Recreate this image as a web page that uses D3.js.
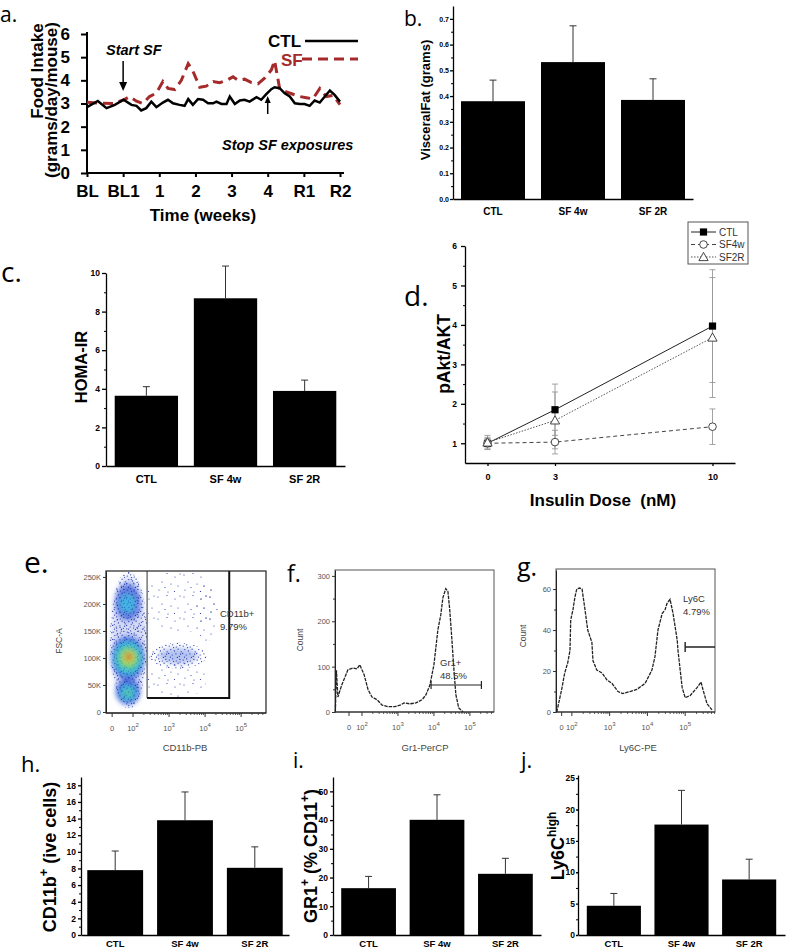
<!DOCTYPE html>
<html>
<head>
<meta charset="utf-8">
<script src="https://cdn.jsdelivr.net/npm/d3@7"></script>
<style>
body { margin: 0; background: #fff; }
svg { display: block; font-family: "Liberation Sans", Arial, sans-serif; }
</style>
</head>
<body>
<svg id="fig" width="787" height="950"></svg>
<script>
// ---------- panel a : food intake ----------
const weekLabels = ["BL", "BL1", "1", "2", "3", "4", "R1", "R2"];
const ctlWeek = [0, 0.30, 0.54, 0.77, 1.01, 1.23, 1.37, 1.50, 1.64, 1.78, 1.92, 2.10, 2.24, 2.38, 2.56, 2.70, 2.80, 2.93, 3.07, 3.21, 3.35, 3.49, 3.58, 3.72, 3.86, 3.95, 4.09, 4.23, 4.36, 4.50, 4.69, 4.82, 4.96, 5.10, 5.19, 5.33, 5.47, 5.61, 5.75, 5.89, 6.02, 6.16, 6.30, 6.44, 6.58, 6.72, 6.85, 7.0];
const ctlIntake = [2.84, 3.11, 2.80, 2.94, 3.16, 2.94, 2.90, 2.70, 2.80, 3.08, 2.84, 3.04, 3.16, 3.01, 2.94, 2.90, 3.19, 2.94, 3.19, 3.16, 3.01, 3.01, 3.08, 2.98, 2.98, 3.30, 2.98, 3.13, 3.16, 3.08, 3.27, 3.16, 3.40, 3.62, 3.70, 3.66, 3.44, 3.30, 3.01, 2.98, 2.98, 2.90, 3.13, 3.04, 3.30, 3.56, 3.37, 3.08];
const sfWeek = [0, 0.35, 0.72, 1.01, 1.18, 1.37, 1.55, 1.73, 1.92, 2.10, 2.24, 2.43, 2.61, 2.80, 2.93, 3.12, 3.30, 3.49, 3.67, 3.86, 4.04, 4.18, 4.36, 4.55, 4.73, 4.92, 5.10, 5.19, 5.33, 5.52, 5.70, 5.89, 6.07, 6.25, 6.44, 6.62, 6.81, 7.0];
const sfIntake = [3.05, 3.02, 3.0, 3.15, 3.3, 3.1, 3.0, 3.3, 3.45, 3.95, 3.65, 3.6, 4.0, 4.72, 4.4, 3.7, 3.75, 3.95, 3.9, 4.0, 4.15, 4.0, 4.05, 3.9, 3.85, 4.1, 4.45, 4.85, 3.65, 3.5, 3.4, 3.3, 3.25, 3.2, 3.65, 3.3, 3.35, 2.95];

// ---------- bar panels b, c, h, i, j ----------
const groups = ["CTL", "SF 4w", "SF 2R"];
const fatMean = [0.38, 0.532, 0.385];
const fatErr = [0.082, 0.141, 0.082];
const homaMean = [3.64, 8.69, 3.89];
const homaErr = [0.47, 1.67, 0.56];
const cd11Mean = [7.8, 13.8, 8.08];
const cd11Err = [2.3, 3.4, 2.52];
const gr1Mean = [16.3, 40.1, 21.3];
const gr1Err = [4.1, 8.7, 5.4];
const ly6Mean = [4.66, 17.6, 8.85];
const ly6Err = [1.96, 5.45, 3.23];

// ---------- panel d : pAkt/AKT ----------
const doses = [0, 3, 10];
const aktCtl = [1.0, 1.85, 3.97];
const aktCtlErr = [0.12, 0.65, 1.43];
const aktSf4w = [1.0, 1.03, 1.42];
const aktSf4wErr = [0.15, 0.3, 0.45];
const aktSf2r = [1.02, 1.58, 3.68];
const aktSf2rErr = [0.18, 0.72, 1.52];
const aktNames = ["CTL", "SF4w", "SF2R"];

// ---------- panel e : FSC-A vs CD11b-PB (channel units, K events) ----------
// blobs: [channel, K, radius channel, radius K, colour level, alpha]
const eBlobs = [
  [1.88, 132, 0.48, 120, 1, 0.22],
  [1.86, 203, 0.36, 34, 1, 0.7],
  [1.85, 201, 0.20, 16, 2, 0.75],
  [1.86, 100, 0.46, 40, 1, 0.8],
  [1.86, 100, 0.38, 30, 2, 0.9],
  [1.87, 100, 0.28, 21, 3, 1],
  [1.88, 101, 0.18, 13, 4, 1],
  [1.88, 102, 0.09, 7, 5, 1],
  [1.86, 38, 0.34, 24, 1, 0.8],
  [1.86, 36, 0.22, 14, 2, 0.8],
  [1.86, 35, 0.10, 7, 3, 0.6],
  [3.25, 104, 0.55, 15, 1, 0.35]
];
// speckle clouds: [channel, K, radius channel, radius K, pattern]
const eClouds = [
  [1.88, 134, 0.52, 128, "dense"],
  [1.88, 134, 0.50, 126, "mid"],
  [3.35, 205, 1.00, 58, "sparse"],
  [4.05, 190, 0.32, 60, "sparse"],
  [3.25, 104, 0.80, 24, "dense"],
  [3.20, 60, 0.85, 36, "sparse"]
];
const eGate = [2.39, 4.67, 26, 261];
const eYTicks = [0, 50, 100, 150, 200, 250];

// ---------- panels f, g : histograms (channel units, counts) ----------
const fHistU = [1.26, 1.29, 1.33, 1.44, 1.61, 1.75, 1.86, 1.94, 2.06, 2.17, 2.28, 2.42, 2.56, 2.72, 2.92, 3.06, 3.17, 3.33, 3.5, 3.67, 3.78, 3.89, 4.0, 4.11, 4.19, 4.25, 4.33, 4.39, 4.44, 4.5, 4.56, 4.61, 4.69, 4.81];
const fHistCount = [0, 92, 33, 60, 93, 97, 95, 104, 82, 49, 33, 27, 15, 12, 12, 15, 20, 18, 20, 27, 38, 60, 104, 181, 214, 252, 272, 265, 225, 159, 88, 38, 9, 0];
const gHistU = [1.60, 1.73, 1.81, 1.89, 1.95, 1.97, 2.03, 2.08, 2.13, 2.21, 2.27, 2.34, 2.42, 2.53, 2.56, 2.66, 2.80, 2.93, 3.06, 3.22, 3.35, 3.54, 3.72, 3.94, 4.12, 4.20, 4.28, 4.39, 4.47, 4.52, 4.60, 4.68, 4.79, 4.81, 4.92, 5.00, 5.13, 5.32, 5.42, 5.47, 5.58, 5.71];
const gHistCount = [0, 11, 19, 24, 30, 45, 50, 56, 60, 60.5, 60, 51, 40, 34, 25, 20.5, 19, 15.6, 14, 10, 9, 10, 11, 14, 20.5, 27, 40, 48, 50, 53, 55, 48, 35, 30, 12, 7, 8, 12, 14.6, 11, 4, 1];
const decadeLabels = ["0", "10", "10", "10", "10"];
const decadeSups = ["", "2", "3", "4", "5"];

const svg = d3.select("#fig");
svg.append("rect").attr("width", 787).attr("height", 950).attr("fill", "#fff");
const defs = svg.append("defs");
const BOLD = "bold";

function styleAxis(sel, size, weight, sw, color) {
  sel.attr("font-size", null).attr("font-family", null);
  sel.select(".domain").attr("stroke", "#000").attr("stroke-width", sw);
  sel.selectAll(".tick line").attr("stroke", "#000").attr("stroke-width", sw);
  sel.selectAll(".tick text").attr("font-size", size).attr("font-weight", weight).attr("fill", color || "#000");
}

function vtext(x, y, txt, size, weight) {
  return svg.append("text").attr("transform", `translate(${x},${y}) rotate(-90)`)
    .attr("text-anchor", "middle").attr("font-size", size).attr("font-weight", weight || "normal").text(txt);
}

function panelLetter(t, x, y, size) {
  svg.append("text").attr("x", x).attr("y", y).attr("font-family", "'Open Sans','Noto Sans',sans-serif")
    .attr("font-size", size).text(t);
}

// ================= panel a =================
{
  const x = d3.scaleLinear([0, 7], [87, 340]);
  const y = d3.scaleLinear([0, 6], [173, 34]);
  const g = svg.append("g");
  const ya = g.append("g").attr("transform", "translate(87,0)")
    .call(d3.axisLeft(y).ticks(6).tickSize(6).tickPadding(11).tickSizeOuter(0));
  styleAxis(ya, 17, BOLD, 2);
  ya.select(".domain").attr("d", "M0,173V32");
  const xa = g.append("g").attr("transform", "translate(0,173)")
    .call(d3.axisBottom(x).tickValues(d3.range(8)).tickFormat(i => weekLabels[i]).tickSize(4).tickPadding(8).tickSizeOuter(0));
  styleAxis(xa, 17, BOLD, 2);
  xa.select(".domain").attr("d", "M87,0H344");

  const line = d3.line().x(d => x(d[0])).y(d => y(d[1]));
  g.append("path").datum(sfWeek.map((t, i) => [t, sfIntake[i]])).attr("d", line)
    .attr("fill", "none").attr("stroke", "#a52a2a").attr("stroke-width", 3).attr("stroke-dasharray", "10,6");
  g.append("path").datum(ctlWeek.map((t, i) => [t, ctlIntake[i]])).attr("d", line)
    .attr("fill", "none").attr("stroke", "#000").attr("stroke-width", 2.5);

  // legend
  g.append("text").attr("x", 268).attr("y", 47).attr("font-size", 17).attr("font-weight", BOLD).text("CTL");
  g.append("line").attr("x1", 305).attr("x2", 358).attr("y1", 41).attr("y2", 41).attr("stroke", "#000").attr("stroke-width", 2.5);
  g.append("text").attr("x", 281).attr("y", 66).attr("font-size", 17).attr("font-weight", BOLD).attr("fill", "#a52a2a").text("SF");
  g.append("line").attr("x1", 302).attr("x2", 358).attr("y1", 59).attr("y2", 59).attr("stroke", "#a52a2a").attr("stroke-width", 3).attr("stroke-dasharray", "10,6");

  // annotations
  g.append("text").attr("x", 106).attr("y", 55).attr("font-size", 14.5).attr("font-weight", BOLD).attr("font-style", "italic").text("Start SF");
  g.append("line").attr("x1", x(1)).attr("x2", x(1)).attr("y1", 61).attr("y2", 84).attr("stroke", "#000").attr("stroke-width", 1.5);
  g.append("path").attr("d", `M${x(1) - 4},82L${x(1) + 4},82L${x(1)},91Z`).attr("fill", "#000");
  g.append("text").attr("x", 222).attr("y", 150).attr("font-size", 14.5).attr("font-weight", BOLD).attr("font-style", "italic").text("Stop SF exposures");
  g.append("line").attr("x1", x(5)).attr("x2", x(5)).attr("y1", 114).attr("y2", 101).attr("stroke", "#000").attr("stroke-width", 1.5);
  g.append("path").attr("d", `M${x(5) - 3},103L${x(5) + 3},103L${x(5)},96Z`).attr("fill", "#000");

  vtext(43, 71, "Food Intake", 17, BOLD);
  vtext(57, 100, "(grams/day/mouse)", 17, BOLD);
  svg.append("text").attr("x", 203).attr("y", 221).attr("text-anchor", "middle").attr("font-size", 17).attr("font-weight", BOLD).text("Time (weeks)");
  panelLetter("a.", 0, 22, 21);
}

// ================= bar panels =================
function barPanel(o) {
  const x = d3.scaleBand().domain(groups).range(o.xr).paddingInner(0.2).paddingOuter(o.po);
  const y = d3.scaleLinear().domain(o.yd).range(o.yr);
  const g = svg.append("g");
  g.selectAll("line.err").data(o.mean).join("line")
    .attr("x1", (d, i) => x(groups[i]) + x.bandwidth() / 2).attr("x2", (d, i) => x(groups[i]) + x.bandwidth() / 2)
    .attr("y1", d => y(d)).attr("y2", (d, i) => y(d + o.err[i])).attr("stroke", "#333").attr("stroke-width", 1);
  g.selectAll("line.cap").data(o.mean).join("line")
    .attr("x1", (d, i) => x(groups[i]) + x.bandwidth() / 2 - 3.5).attr("x2", (d, i) => x(groups[i]) + x.bandwidth() / 2 + 3.5)
    .attr("y1", (d, i) => y(d + o.err[i])).attr("y2", (d, i) => y(d + o.err[i])).attr("stroke", "#333").attr("stroke-width", 1);
  g.selectAll("rect.bar").data(o.mean).join("rect")
    .attr("x", (d, i) => x(groups[i])).attr("y", d => y(d)).attr("width", x.bandwidth())
    .attr("height", d => y(0) - y(d)).attr("fill", "#000");

  const ya = g.append("g").attr("transform", `translate(${o.xr[0]},0)`)
    .call(d3.axisLeft(y).tickValues(o.ticks).tickFormat(o.fmt).tickSize(o.ts).tickPadding(o.tp).tickSizeOuter(0));
  styleAxis(ya, o.tickFont, BOLD, 1.3);
  const mi = g.append("g").attr("transform", `translate(${o.xr[0]},0)`)
    .call(d3.axisLeft(y).tickValues(o.minor).tickFormat("").tickSize(2).tickSizeOuter(0));
  mi.select(".domain").remove();
  mi.selectAll(".tick line").attr("stroke", "#000").attr("stroke-width", 1);
  const xa = g.append("g").attr("transform", `translate(0,${o.yr[0]})`)
    .call(d3.axisBottom(x).tickSize(0).tickPadding(o.xp).tickSizeOuter(0));
  styleAxis(xa, o.catFont, BOLD, 1.3);
  return g;
}

// b
barPanel({ mean: fatMean, err: fatErr, xr: [453, 693], po: 0.1, yd: [0, 0.75], yr: [199, 6],
  ticks: d3.range(0, 0.71, 0.1), minor: d3.range(0.05, 0.75, 0.1), fmt: d3.format(".1f"),
  ts: 3, tp: 1, tickFont: 7, catFont: 10, xp: 9 });
vtext(430, 100, "VisceralFat (grams)", 13, BOLD);
panelLetter("b.", 404, 26, 21);

// c
barPanel({ mean: homaMean, err: homaErr, xr: [106, 345], po: 0.11, yd: [0, 10], yr: [466, 273],
  ticks: d3.range(0, 11, 2), minor: d3.range(1, 10, 2), fmt: d3.format("d"),
  ts: 4, tp: 2, tickFont: 8.5, catFont: 11, xp: 9 });
vtext(87, 367, "HOMA-IR", 16.5, BOLD);
panelLetter("c.", 1, 282, 28);

// h
barPanel({ mean: cd11Mean, err: cd11Err, xr: [81, 289], po: 0.09, yd: [0, 19], yr: [935, 777],
  ticks: d3.range(0, 19, 2), minor: d3.range(1, 19, 2), fmt: d3.format("d"),
  ts: 3, tp: 2, tickFont: 8.5, catFont: 9.5, xp: 5 });
{
  const t = svg.append("text").attr("transform", "translate(56,857) rotate(-90)").attr("text-anchor", "middle")
    .attr("font-size", 18).attr("font-weight", BOLD);
  t.append("tspan").text("CD11b");
  t.append("tspan").attr("dy", -8).attr("font-size", 13).text("+");
  t.append("tspan").attr("dy", 8).text("  (ive cells)");
}
panelLetter("h.", 21, 772, 22);

// i
barPanel({ mean: gr1Mean, err: gr1Err, xr: [333, 541], po: 0.12, yd: [0, 55], yr: [935, 777],
  ticks: d3.range(0, 51, 10), minor: d3.range(5, 55, 10), fmt: d3.format("d"),
  ts: 3, tp: 2, tickFont: 8.5, catFont: 9.5, xp: 5 });
{
  const t = svg.append("text").attr("transform", "translate(317,856) rotate(-90)").attr("text-anchor", "middle")
    .attr("font-size", 18).attr("font-weight", BOLD);
  t.append("tspan").text("GR1");
  t.append("tspan").attr("dy", -8).attr("font-size", 12).text("+");
  t.append("tspan").attr("dy", 8).text("  (% CD11");
  t.append("tspan").attr("dy", -8).attr("font-size", 12).text("+");
  t.append("tspan").attr("dy", 8).text(")");
}
panelLetter("i.", 293, 768, 21);

// j
barPanel({ mean: ly6Mean, err: ly6Err, xr: [578, 785], po: 0.13, yd: [0, 25.5], yr: [935, 775],
  ticks: d3.range(0, 26, 5), minor: d3.range(2.5, 25, 5), fmt: d3.format("d"),
  ts: 2, tp: 1, tickFont: 8.5, catFont: 9.5, xp: 5 });
{
  const t = svg.append("text").attr("transform", "translate(564,846) rotate(-90)").attr("text-anchor", "middle")
    .attr("font-size", 18).attr("font-weight", BOLD);
  t.append("tspan").text("Ly6C");
  t.append("tspan").attr("dy", -8).attr("font-size", 12).text("high");
}
panelLetter("j.", 521, 768, 22);

// ================= panel d =================
{
  const x = d3.scaleLinear([-1, 11], [465, 735]);
  const y = d3.scaleLinear([0.5, 6], [463, 246]);
  const g = svg.append("g");
  const ya = g.append("g").attr("transform", "translate(465,0)")
    .call(d3.axisLeft(y).tickValues(d3.range(1, 7)).tickFormat(d3.format("d")).tickSize(4).tickPadding(4).tickSizeOuter(0));
  styleAxis(ya, 8.5, BOLD, 1.3);
  const mi = g.append("g").attr("transform", "translate(465,0)")
    .call(d3.axisLeft(y).tickValues(d3.range(1.5, 6, 1)).tickFormat("").tickSize(2).tickSizeOuter(0));
  mi.select(".domain").remove();
  const xa = g.append("g").attr("transform", "translate(0,463)")
    .call(d3.axisBottom(x).tickValues(doses).tickFormat(d3.format("d")).tickSize(3).tickPadding(8).tickSizeOuter(0));
  styleAxis(xa, 9, BOLD, 1.3);

  const series = [
    { v: aktCtl, e: aktCtlErr, dash: null, col: "#222", mk: "square" },
    { v: aktSf4w, e: aktSf4wErr, dash: "4,3", col: "#444", mk: "circle" },
    { v: aktSf2r, e: aktSf2rErr, dash: "1.5,1.5", col: "#555", mk: "tri" }
  ];
  function marker(p, kind, cx, cy) {
    if (kind === "square") p.append("rect").attr("x", cx - 3.6).attr("y", cy - 3.6).attr("width", 7.2).attr("height", 7.2).attr("fill", "#000");
    else if (kind === "circle") p.append("circle").attr("cx", cx).attr("cy", cy).attr("r", 3.8).attr("fill", "#fff").attr("stroke", "#333").attr("stroke-width", 0.9);
    else p.append("path").attr("d", `M${cx},${cy - 4.6}L${cx + 4.6},${cy + 3.6}L${cx - 4.6},${cy + 3.6}Z`).attr("fill", "#fff").attr("stroke", "#333").attr("stroke-width", 0.9);
  }
  series.forEach(s => {
    doses.forEach((d, i) => {
      const cx = x(d);
      g.append("line").attr("x1", cx).attr("x2", cx).attr("y1", y(s.v[i] - s.e[i])).attr("y2", y(s.v[i] + s.e[i])).attr("stroke", "#999").attr("stroke-width", 0.9);
      [s.v[i] - s.e[i], s.v[i] + s.e[i]].forEach(b =>
        g.append("line").attr("x1", cx - 3).attr("x2", cx + 3).attr("y1", y(b)).attr("y2", y(b)).attr("stroke", "#999").attr("stroke-width", 0.9));
    });
  });
  const line = d3.line().x((d, i) => x(doses[i])).y(d => y(d));
  series.forEach(s => {
    g.append("path").attr("d", line(s.v)).attr("fill", "none").attr("stroke", s.col).attr("stroke-width", 1)
      .attr("stroke-dasharray", s.dash);
  });
  series.forEach(s => doses.forEach((d, i) => marker(g, s.mk, x(d), y(s.v[i]))));

  // legend
  g.append("rect").attr("x", 688).attr("y", 222).attr("width", 60).attr("height", 42).attr("fill", "#fff").attr("stroke", "#555").attr("stroke-width", 1);
  series.forEach((s, i) => {
    const ly = 232 + i * 12.5;
    g.append("line").attr("x1", 691).attr("x2", 716).attr("y1", ly).attr("y2", ly).attr("stroke", s.col).attr("stroke-width", 1).attr("stroke-dasharray", s.dash);
    marker(g, s.mk, 703.5, ly);
    g.append("text").attr("x", 719).attr("y", ly + 3.5).attr("font-size", 10).attr("fill", "#333").text(aktNames[i]);
  });

  vtext(450, 354, "pAkt/AKT", 17.5, BOLD);
  svg.append("text").attr("x", 603).attr("y", 506).attr("text-anchor", "middle").attr("font-size", 17).attr("font-weight", BOLD)
    .attr("xml:space", "preserve").text("Insulin Dose  (nM)");
  panelLetter("d.", 404, 306, 28);
}

// ================= flow panels helpers =================
function flowXAxis(x, yb, ticksU, color) {
  const g = svg.append("g");
  g.append("line").attr("x1", x.range()[0]).attr("x2", x.range()[1]).attr("y1", yb).attr("y2", yb).attr("stroke", "#222").attr("stroke-width", 1);
  const minor = [];
  for (let k = 2; k <= 5; k++) for (let m = 2; m <= 9; m++) { const u = k + Math.log10(m); if (u < x.domain()[1]) minor.push(u); }
  g.selectAll("line.mn").data(minor).join("line").attr("x1", d => x(d)).attr("x2", d => x(d))
    .attr("y1", yb).attr("y2", yb + 2).attr("stroke", "#333").attr("stroke-width", 0.8);
  g.selectAll("line.mj").data(ticksU).join("line").attr("x1", d => x(d)).attr("x2", d => x(d))
    .attr("y1", yb).attr("y2", yb + 4).attr("stroke", "#333").attr("stroke-width", 1);
  ticksU.forEach((u, i) => {
    const t = g.append("text").attr("x", x(u)).attr("y", yb + 18).attr("text-anchor", "middle").attr("font-size", 7.5).attr("fill", color);
    t.append("tspan").text(decadeLabels[i]);
    if (decadeSups[i]) t.append("tspan").attr("dy", -4).attr("font-size", 6).text(decadeSups[i]);
  });
}
function flowYAxis(y, xl, ticks, fmt, minor) {
  const ya = svg.append("g").attr("transform", `translate(${xl},0)`)
    .call(d3.axisLeft(y).tickValues(ticks).tickFormat(fmt).tickSize(3).tickPadding(2).tickSizeOuter(0));
  ya.attr("font-size", null).attr("font-family", null);
  ya.select(".domain").attr("stroke", "#222");
  ya.selectAll(".tick line").attr("stroke", "#333");
  ya.selectAll(".tick text").attr("font-size", 7.5).attr("fill", "#555");
  if (minor) {
    const mi = svg.append("g").attr("transform", `translate(${xl},0)`)
      .call(d3.axisLeft(y).tickValues(minor).tickFormat("").tickSize(2).tickSizeOuter(0));
    mi.select(".domain").remove();
    mi.selectAll(".tick line").attr("stroke", "#333");
  }
}

// speckle textures (irregular dot tiles)
function speckle(id, w, h, pts, col) {
  const p = defs.append("pattern").attr("id", id).attr("patternUnits", "userSpaceOnUse").attr("width", w).attr("height", h);
  pts.forEach(q => p.append("circle").attr("cx", q[0]).attr("cy", q[1]).attr("r", 0.6).attr("fill", col));
}
speckle("dense", 14, 14, [[1.2, 2.1], [4.7, 0.8], [8.3, 3.0], [11.9, 1.4], [2.8, 5.6], [6.4, 6.9], [10.1, 5.2], [13.2, 7.8],
  [0.7, 9.4], [4.2, 11.0], [7.9, 9.8], [11.3, 12.3], [2.5, 13.1], [9.4, 13.4], [5.6, 3.6], [12.6, 10.2]], "#2030a2");
speckle("mid", 17, 15, [[2.3, 1.1], [9.8, 2.7], [15.1, 4.9], [5.4, 7.3], [12.2, 9.6], [1.1, 12.4], [7.7, 13.8], [14.6, 13.1]], "#2b44c0");
speckle("sparse", 26, 22, [[2, 3], [11, 1.5], [19, 5], [24, 2], [6, 10], [15, 12], [22, 14], [3, 18], [12, 20], [18.5, 19.5], [9, 15.5]], "#2636b0");
defs.append("filter").attr("id", "blur").attr("x", "-50%").attr("y", "-50%").attr("width", "200%").attr("height", "200%")
  .append("feGaussianBlur").attr("stdDeviation", 2.8);
defs.append("clipPath").attr("id", "eclip").append("rect").attr("x", 107).attr("y", 572).attr("width", 158).attr("height", 140);

// ================= panel e =================
{
  const x = d3.scaleLinear([1.25, 5.69], [106, 266]);
  const y = d3.scaleLinear([0, 261], [712, 571]);
  const jet = ["#1b2a8f", "#2f55d4", "#3cbde0", "#66d26a", "#f0e03a", "#e2321f"];
  const g = svg.append("g").attr("clip-path", "url(#eclip)");
  const bl = g.append("g").attr("filter", "url(#blur)");
  eBlobs.forEach(b => bl.append("ellipse").attr("cx", x(b[0])).attr("cy", y(b[1]))
    .attr("rx", x(b[0] + b[2]) - x(b[0])).attr("ry", y(b[1]) - y(b[1] + b[3]))
    .attr("fill", jet[b[4]]).attr("opacity", b[5]));
  eClouds.forEach(c => g.append("ellipse").attr("cx", x(c[0])).attr("cy", y(c[1]))
    .attr("rx", x(c[0] + c[2]) - x(c[0])).attr("ry", y(c[1]) - y(c[1] + c[3]))
    .attr("fill", `url(#${c[4]})`));
  // hot cores drawn again over the speckles
  const bl2 = g.append("g").attr("filter", "url(#blur)");
  eBlobs.filter(b => b[4] >= 2).forEach(b => bl2.append("ellipse").attr("cx", x(b[0])).attr("cy", y(b[1]))
    .attr("rx", x(b[0] + b[2]) - x(b[0])).attr("ry", y(b[1]) - y(b[1] + b[3]))
    .attr("fill", jet[b[4]]).attr("opacity", b[5] * 0.6));

  // gate
  svg.append("line").attr("x1", x(eGate[0])).attr("x2", x(eGate[0])).attr("y1", y(eGate[3])).attr("y2", y(eGate[2])).attr("stroke", "#333").attr("stroke-width", 1);
  svg.append("path").attr("d", `M${x(eGate[0])},${y(eGate[2])}H${x(eGate[1])}V${y(eGate[3])}`).attr("fill", "none").attr("stroke", "#111").attr("stroke-width", 2);
  svg.append("rect").attr("x", 106).attr("y", 571).attr("width", 160).attr("height", 142).attr("fill", "none").attr("stroke", "#222").attr("stroke-width", 1.2);
  flowYAxis(y, 106, eYTicks, d => d === 0 ? "0" : d + "K");
  flowXAxis(x, 713, [1.42, 2, 3, 4, 5], "#555");
  svg.append("text").attr("x", 220).attr("y", 617).attr("font-size", 9.5).attr("fill", "#333").text("CD11b+");
  svg.append("text").attr("x", 220).attr("y", 630).attr("font-size", 9.5).attr("fill", "#333").text("9.79%");
  svg.append("text").attr("x", 185).attr("y", 751).attr("text-anchor", "middle").attr("font-size", 9.5).attr("fill", "#444").text("CD11b-PB");
  vtext(62, 641, "FSC-A", 8.5).attr("fill", "#444");
  panelLetter("e.", 24, 573, 30);
}

// ================= panel f =================
{
  const x = d3.scaleLinear([1.25, 5.67], [335, 494]);
  const y = d3.scaleLinear([0, 313], [712, 570]);
  svg.append("rect").attr("x", 335).attr("y", 570).attr("width", 159).attr("height", 142).attr("fill", "none").attr("stroke", "#555").attr("stroke-width", 1);
  const line = d3.line().x((d, i) => x(fHistU[i])).y(d => y(d));
  svg.append("path").attr("d", line(fHistCount)).attr("fill", "none").attr("stroke", "#222").attr("stroke-width", 1.3).attr("stroke-dasharray", "3.5,1");
  flowYAxis(y, 335, [0, 100, 200, 300], d3.format("d"), [50, 150, 250]);
  flowXAxis(x, 712, [1.64, 2, 3, 4, 5], "#555");
  svg.append("path").attr("d", `M${x(3.92)},681V689M${x(3.92)},685H${x(5.32)}M${x(5.32)},681V689`).attr("stroke", "#222").attr("stroke-width", 1.2).attr("fill", "none");
  svg.append("text").attr("x", 440).attr("y", 666).attr("font-size", 9.5).attr("fill", "#333").text("Gr1+");
  svg.append("text").attr("x", 440).attr("y", 679).attr("font-size", 9.5).attr("fill", "#333").text("48.5%");
  svg.append("text").attr("x", 425).attr("y", 751).attr("text-anchor", "middle").attr("font-size", 9.5).attr("fill", "#444").text("Gr1-PerCP");
  vtext(303, 640, "Count", 8.5).attr("fill", "#444");
  panelLetter("f.", 287, 582, 23);
}

// ================= panel g =================
{
  const x = d3.scaleLinear([1.58, 5.79], [556, 715]);
  const y = d3.scaleLinear([0, 69.3], [712, 570]);
  svg.append("rect").attr("x", 556).attr("y", 569).attr("width", 159).attr("height", 143).attr("fill", "none").attr("stroke", "#555").attr("stroke-width", 1);
  const line = d3.line().x((d, i) => x(gHistU[i])).y(d => y(d));
  svg.append("path").attr("d", line(gHistCount)).attr("fill", "none").attr("stroke", "#222").attr("stroke-width", 1.3).attr("stroke-dasharray", "3.5,1");
  flowYAxis(y, 556, [0, 20, 40, 60], d3.format("d"), [10, 30, 50]);
  flowXAxis(x, 712, [1.73, 2, 3, 4, 5], "#555");
  svg.append("path").attr("d", `M${x(5.0)},642V652M${x(5.0)},647H715`).attr("stroke", "#222").attr("stroke-width", 1.4).attr("fill", "none");
  svg.append("text").attr("x", 683).attr("y", 602).attr("font-size", 9.5).attr("fill", "#333").text("Ly6C");
  svg.append("text").attr("x", 683).attr("y", 615).attr("font-size", 9.5).attr("fill", "#333").text("4.79%");
  svg.append("text").attr("x", 638).attr("y", 751).attr("text-anchor", "middle").attr("font-size", 9.5).attr("fill", "#444").text("Ly6C-PE");
  vtext(526, 636, "Count", 8.5).attr("fill", "#444");
  panelLetter("g.", 517, 576, 25);
}
</script>
</body>
</html>
